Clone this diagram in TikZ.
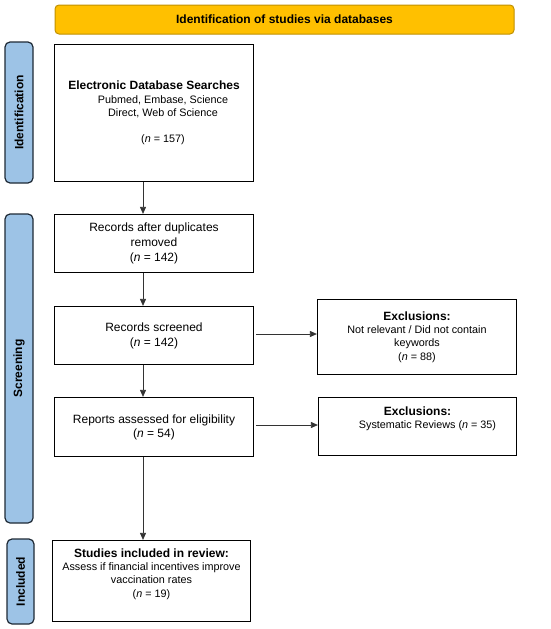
\documentclass[tikz,border=0pt]{standalone}
\usepackage{fontspec}
\setmainfont{Liberation Sans}
\usetikzlibrary{arrows.meta}
\definecolor{hdrfill}{HTML}{FFC000}
\definecolor{hdrline}{HTML}{C09000}
\definecolor{sidefill}{HTML}{9DC3E6}
\definecolor{sideline}{HTML}{1F2A36}
\definecolor{arrowc}{HTML}{333333}
\newcommand{\smtxt}{\fontsize{10.8}{13.3}\selectfont}
\begin{document}
\begin{tikzpicture}[x=1pt,y=-1pt,
  box/.style={draw=black, line width=1.2pt, align=center, inner sep=0pt,
    font=\fontsize{12}{13.3}\selectfont},
  boxwide/.style={box, font=\fontsize{12}{15}\selectfont},
  hdr/.style={draw=hdrline, fill=hdrfill, line width=1pt, rounded corners=4pt,
    inner sep=0pt, font=\fontsize{12}{14}\selectfont\bfseries},
  side/.style={draw=sideline, fill=sidefill, line width=1.2pt, rounded corners=5pt,
    inner sep=0pt},
  sidetext/.style={rotate=90, font=\fontsize{12}{14}\selectfont\bfseries, inner sep=0pt},
  flow/.style={draw=arrowc, line width=0.8pt, -{Triangle[length=7pt,width=6pt]}}
]
\useasboundingbox (0,0) rectangle (550,629);

\node[hdr, minimum width=459pt, minimum height=29pt] (hdr) at (284.5,19.5) {Identification of studies via databases};

\node[side, minimum width=28pt, minimum height=141pt] (s1) at (19,112.5) {};
\node[sidetext] (s1t) at (s1.center) {Identification};
\node[side, minimum width=28pt, minimum height=309pt] (s2) at (19,368.5) {};
\node[sidetext] (s2t) at (s2.center) {Screening};
\node[side, minimum width=27pt, minimum height=85pt] (s3) at (20.5,581.5) {};
\node[sidetext] (s3t) at (s3.center) {Included};

\node[box, minimum width=199pt, minimum height=137pt] (b1) at (154,113)
  {\textbf{Electronic Database Searches}\\
   \smtxt\hspace*{18pt}Pubmed, Embase, Science\\
   \smtxt\hspace*{18pt}Direct, Web of Science\\[13pt]
   \smtxt\hspace*{18pt}(\textit{n} = 157)};
\node[boxwide, minimum width=199pt, minimum height=58pt] (b2) at (154,243.5)
  {Records after duplicates\\removed\\(\textit{n} = 142)};
\node[boxwide, minimum width=199pt, minimum height=58pt] (b3) at (154,335.5)
  {Records screened\\(\textit{n} = 142)};
\node[box, minimum width=199pt, minimum height=59pt, font=\fontsize{12}{14}\selectfont] (b4) at (154,427)
  {Reports assessed for eligibility\\(\textit{n} = 54)};
\node[box, minimum width=198pt, minimum height=81pt] (b5) at (151.5,581)
  {\textbf{Studies included in review:}\\\smtxt Assess if financial incentives improve\\\smtxt vaccination rates\\\smtxt(\textit{n} = 19)\\[-1pt]\strut};
\node[box, minimum width=199pt, minimum height=75pt] (e1) at (417,337)
  {\textbf{Exclusions:}\\\smtxt Not relevant / Did not contain\\\smtxt keywords\\\smtxt(\textit{n} = 88)};
\node[box, minimum width=198pt, minimum height=58pt] (e2) at (417.5,426.5)
  {\textbf{Exclusions:}\\\smtxt\hspace*{20pt}Systematic Reviews (\textit{n} = 35)\\\strut};

\draw[flow] ([xshift=-11pt]b1.south) -- ([xshift=-11pt]b1.south |- b2.north);
\draw[flow] ([xshift=-11pt]b2.south) -- ([xshift=-11pt]b2.south |- b3.north);
\draw[flow] ([xshift=-11pt]b3.south) -- ([xshift=-11pt]b3.south |- b4.north);
\draw[flow] ([xshift=-11pt]b4.south) -- ([xshift=-11pt]b4.south |- b5.north);
\draw[flow, shorten <=2pt] ([yshift=1.5pt]b3.east) -- ([yshift=1.5pt]b3.east -| e1.west);
\draw[flow, shorten <=2pt] ([yshift=2pt]b4.east) -- ([yshift=2pt]b4.east -| e2.west);
\end{tikzpicture}
\end{document}
